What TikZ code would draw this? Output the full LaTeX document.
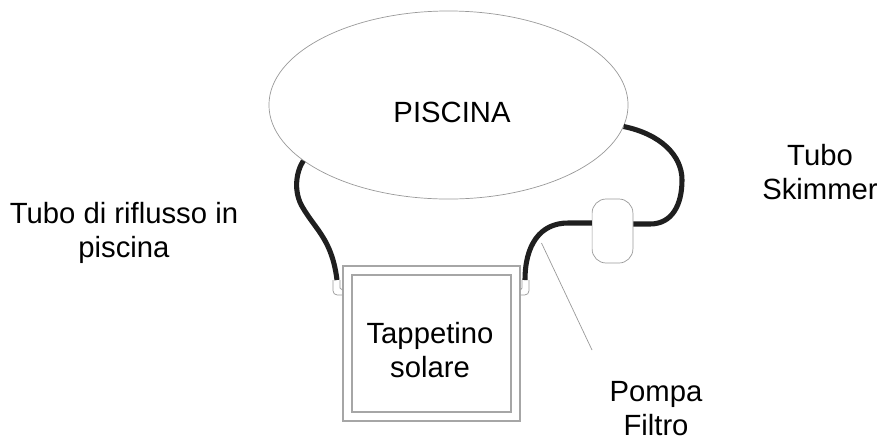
\documentclass[tikz,border=0pt]{standalone}
\usepackage{fontspec}
\setmainfont{Liberation Sans}
\usetikzlibrary{shapes.geometric, positioning}

\begin{document}
\begin{tikzpicture}[
		x=0.025cm, y=-0.025cm,
		outline/.style={draw=black!40, line width=0.5pt},
		frame/.style={draw=black!35, line width=0.9pt, inner sep=0pt},
		tube/.style={draw=black!88, line width=3.6pt},
		label/.style={align=center, font=\fontsize{20.8}{24.4}\selectfont}
		]
		\useasboundingbox (0,0) rectangle (880,437);
		
		% Pool
		\node[outline, ellipse, inner sep=0pt, minimum width=8.975cm, minimum height=4.7cm] (piscina) at (448.5,105) {};
		\node[label] (piscinatext) at (452,112) {PISCINA};
		
		% Solar mat
		\node[frame, minimum width=4.42cm, minimum height=3.87cm] (tappetino) at (431.5,343.5) {};
		\node[frame, minimum width=3.97cm, minimum height=3.42cm] (solare) at (431.5,343.5) {};
		\node[label] (solaretext) at (430,350) {Tappetino\\solare};
		
		% Pump
		\node[outline, rounded corners=10pt, minimum width=1.02cm, minimum height=1.6cm, inner sep=0pt] (pompa) at (612.5,231) {};
		
		% Fittings
		\coordinate (ritorno) at (337,280);
		\coordinate (mandata) at (525,280);
		\draw[outline, rounded corners=3pt] (ritorno) ++(-4,0) |- (tappetino.west |- 0,295);
		\draw[outline] (ritorno) ++(3,0) -- ++(0,8) -- (tappetino.west |- 0,290);
		\draw[outline, rounded corners=3pt] (mandata) ++(4,0) |- (tappetino.east |- 0,295);
		\draw[outline] (mandata) ++(-3,0) -- ++(0,8) -- (tappetino.east |- 0,290);
		
		% Tubes
		\draw[tube] (piscina.201.7) .. controls (296,172) and (293,192) .. (303,208) .. controls (316,230) and (332,240) .. (ritorno);
		\draw[tube] (mandata) .. controls (525,245) and (540,223) .. (568,223) -- (pompa.west |- 0,223);
		\draw[tube] (pompa.east |- 0,224) -- (650,224) .. controls (672,224) and (682,205) .. (682,180) .. controls (682,155) and (660,134) .. (piscina.353);
		
		% Leader
		\coordinate (filtro) at (592,350);
		\coordinate (attacco) at (541.5,243);
		\draw[outline] (attacco) -- (filtro);
		
		% Labels
		\node[label] (riflusso) at (124,233) {Tubo di riflusso in\\piscina};
		\node[label] (skimmer) at (820,172) {Tubo\\Skimmer};
		\node[label] (pompafiltro) at (656,408.5) {Pompa\\Filtro};
		
	\end{tikzpicture}
\end{document}
